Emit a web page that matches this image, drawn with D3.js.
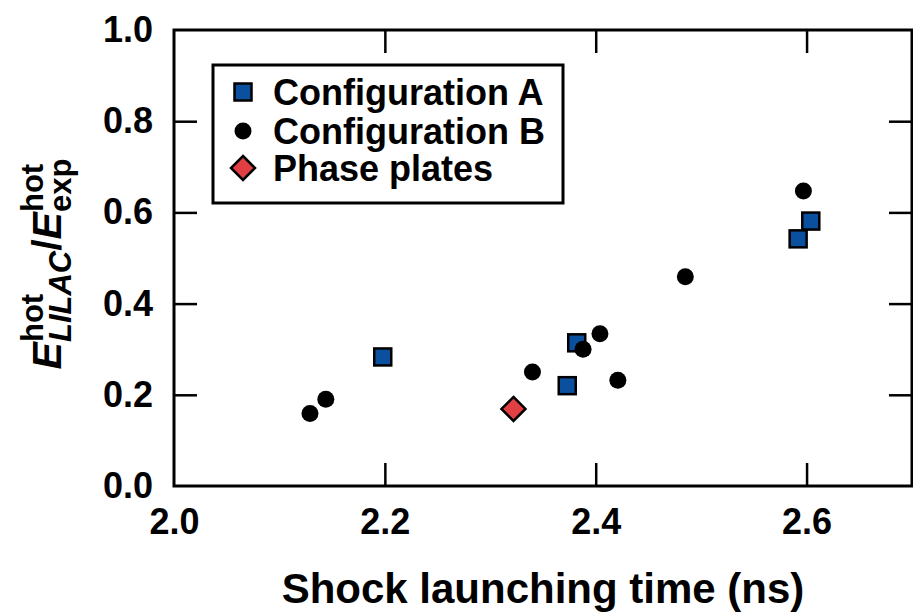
<!DOCTYPE html>
<html>
<head>
<meta charset="utf-8">
<script src="https://cdn.jsdelivr.net/npm/d3@7"></script>
<style>
  html, body { margin: 0; padding: 0; background: #fff; }
  svg { display: block; }
  text { font-family: "Liberation Sans", Arial, Helvetica, sans-serif; font-weight: bold; fill: #000; }
</style>
</head>
<body>
<svg id="chart" width="913" height="614"></svg>
<script>
// ---- data ----
const configA_x = [2.198, 2.382, 2.373, 2.592, 2.604];
const configA_y = [0.283, 0.314, 0.220, 0.542, 0.581];
const configB_x = [2.597, 2.485, 2.404, 2.388, 2.340, 2.421, 2.144, 2.129];
const configB_y = [0.647, 0.459, 0.334, 0.300, 0.250, 0.232, 0.190, 0.159];
const phase_x = [2.322];
const phase_y = [0.169];
const xTicks = [2.0, 2.2, 2.4, 2.6];
const yTicks = [0.0, 0.2, 0.4, 0.6, 0.8, 1.0];
const legendLabels = ["Configuration A", "Configuration B", "Phase plates"];
const xTitle = "Shock launching time (ns)";

// ---- layout ----
const W = 913, H = 614;
const L = 174, R = 912, T = 30, B = 486;
const svg = d3.select("#chart");
const x = d3.scaleLinear().domain([2.0, 2.7]).range([L, R]);
const y = d3.scaleLinear().domain([0, 1]).range([B, T]);

const blue = "#0b4f9f", red = "#e23f42";
const tickLen = 23;

// frame
svg.append("rect").attr("x", L).attr("y", T).attr("width", R - L).attr("height", B - T)
  .attr("fill", "none").attr("stroke", "#000").attr("stroke-width", 3);

// axes
const fmt = d3.format(".1f");
const gx = svg.append("g").attr("transform", `translate(0,${B})`)
  .call(d3.axisBottom(x).tickValues(xTicks).tickSize(-tickLen).tickPadding(22).tickFormat(fmt));
const gy = svg.append("g").attr("transform", `translate(${L},0)`)
  .call(d3.axisLeft(y).tickValues(yTicks).tickSize(-tickLen).tickPadding(21).tickFormat(fmt));
const gx2 = svg.append("g").attr("transform", `translate(0,${T})`)
  .call(d3.axisTop(x).tickValues(xTicks.slice(1)).tickSize(-tickLen).tickFormat(""));
const gy2 = svg.append("g").attr("transform", `translate(${R},0)`)
  .call(d3.axisRight(y).tickValues(yTicks.slice(1, -1)).tickSize(-tickLen).tickFormat(""));
[gx, gy, gx2, gy2].forEach(g => {
  g.select(".domain").remove();
  g.selectAll(".tick line").attr("stroke", "#000").attr("stroke-width", 2.5);
  g.selectAll(".tick text").style("font-size", "36px").style("font-weight", "bold")
    .style("font-family", '"Liberation Sans", Arial, Helvetica, sans-serif').attr("fill", "#000");
});
gy.selectAll(".tick").filter(d => d === 0 || d === 1).select("line").remove();
gx.selectAll(".tick").filter(d => d === 2.0).select("line").remove();

// x title
svg.append("text").attr("x", 543).attr("y", 603).attr("text-anchor", "middle")
  .style("font-size", "42px").text(xTitle);

// y title (stacked sub/superscripts)
const yl = svg.append("g");
const inner = yl.append("g");
const pieces = [
  {stack: [{t: "E", size: 41, it: true, dy: 0}]},
  {stack: [{t: "hot", size: 31, it: false, dy: -18}, {t: "LILAC", size: 31, it: true, dy: 10}]},
  {stack: [{t: "/", size: 41, it: false, dy: 0}]},
  {stack: [{t: "E", size: 41, it: true, dy: 0}]},
  {stack: [{t: "hot", size: 31, it: false, dy: -18}, {t: "exp", size: 31, it: false, dy: 10}]}
];
let cursor = 0;
pieces.forEach(p => {
  let wmax = 0;
  p.stack.forEach(s => {
    const t = inner.append("text").attr("x", cursor).attr("y", s.dy)
      .style("font-size", s.size + "px").style("font-style", s.it ? "italic" : "normal").text(s.t);
    wmax = Math.max(wmax, t.node().getComputedTextLength());
  });
  cursor += wmax;
});
inner.attr("transform", `translate(${-cursor / 2},0)`);
yl.attr("transform", "translate(61,264) rotate(-90)");

// markers
const sq = 17, cr = 8.5, dm = 12;
function square(g, cx, cy, s) {
  g.append("rect").attr("x", cx - s / 2).attr("y", cy - s / 2).attr("width", s).attr("height", s)
    .attr("fill", blue).attr("stroke", "#000").attr("stroke-width", 2.5);
}
function diamond(g, cx, cy, s) {
  g.append("path").attr("d", `M${cx},${cy - s}L${cx + s},${cy}L${cx},${cy + s}L${cx - s},${cy}Z`)
    .attr("fill", red).attr("stroke", "#000").attr("stroke-width", 2.5);
}
const pts = svg.append("g");
configA_x.forEach((v, i) => square(pts, x(v), y(configA_y[i]), sq));
configB_x.forEach((v, i) => pts.append("circle").attr("cx", x(v)).attr("cy", y(configB_y[i])).attr("r", cr).attr("fill", "#000"));
phase_x.forEach((v, i) => diamond(pts, x(v), y(phase_y[i]), dm));

// legend
const lg = svg.append("g");
lg.append("rect").attr("x", 213).attr("y", 65).attr("width", 350).attr("height", 138)
  .attr("fill", "#fff").attr("stroke", "#000").attr("stroke-width", 3);
const rows = [92, 131, 168];
square(lg, 243, rows[0], sq);
lg.append("circle").attr("cx", 243).attr("cy", rows[1]).attr("r", cr).attr("fill", "#000");
diamond(lg, 243, rows[2], dm);
legendLabels.forEach((s, i) => {
  lg.append("text").attr("x", 273).attr("y", rows[i] + 13).style("font-size", "36px").text(s);
});
</script>
</body>
</html>
